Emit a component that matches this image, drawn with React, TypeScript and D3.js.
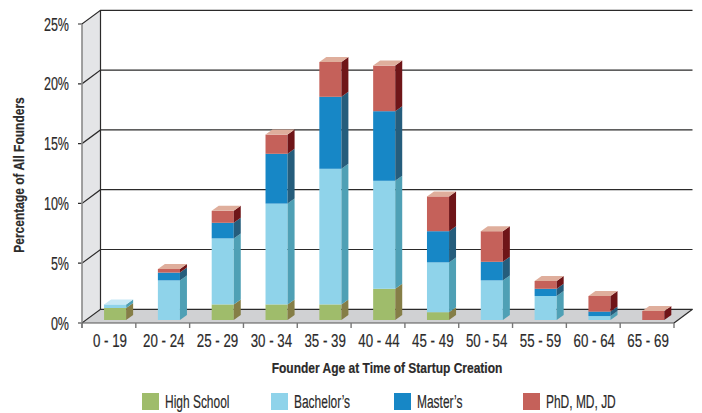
import * as d3 from 'd3'

const ageGroups = ['0 - 19', '20 - 24', '25 - 29', '30 - 34', '35 - 39', '40 - 44', '45 - 49', '50 - 54', '55 - 59', '60 - 64', '65 - 69']
const highSchool = [1.0, 0, 1.3, 1.3, 1.3, 2.6, 0.65, 0, 0, 0, 0]
const bachelors = [0.3, 3.3, 5.5, 8.4, 11.3, 9.0, 4.15, 3.3, 2.0, 0.33, 0]
const masters = [0, 0.65, 1.3, 4.15, 6.0, 5.8, 2.6, 1.55, 0.6, 0.37, 0]
const phd = [0, 0.3, 1.0, 1.6, 2.9, 3.8, 2.9, 2.55, 0.65, 1.3, 0.75]
const yTicks = [0, 5, 10, 15, 20, 25]

const seriesNames = ['High School', 'Bachelor’s', 'Master’s', 'PhD, MD, JD']
const seriesValues = [highSchool, bachelors, masters, phd]
const frontColors = ['#9fbc6b', '#8fd3ea', '#1787c6', '#c5615a']
const sideColors = ['#857e47', '#4fa0b5', '#255d7c', '#6f1518']
const topColors = ['#c3d2a0', '#c8e8f5', '#7fbce0', '#dfae9c']
const legendX = [142, 271, 394, 523]

const font = '"Liberation Sans", sans-serif'
const ink = '#2b2a2a'

const x0 = 82
const x1 = 674
const depthX = 18.5
const depthY = -13.7
const barDepthX = 7
const barDepthY = -5

// the original type is a condensed face, none is installed so squeeze a regular one
function Narrow({ x, y, squeeze = 0.74, rotate = 0, anchor = 'start', size = 17, bold = false, children }: any) {
    return (
        <text
            transform={`translate(${x},${y}) rotate(${rotate}) scale(${squeeze},1)`}
            textAnchor={anchor}
            fontSize={size}
            fontWeight={bold ? 'bold' : 'normal'}
            fill={ink}
            stroke={ink}
            strokeWidth={0.2}
        >
            {children}
        </text>
    )
}

export default function App() {
    const x = d3.scaleBand<string>().domain(ageGroups).range([x0, x1])
    const y = d3.scaleLinear().domain([0, 25]).range([323, 24])
    // bars sit a little behind the front edge of the floor
    const yBar = d3.scaleLinear().domain([0, 25]).range([320, 20])

    const rows = ageGroups.map((age, i) => {
        const row: Record<string, number | string> = { age }
        seriesNames.forEach((name, s) => (row[name] = seriesValues[s][i]))
        return row
    })
    const stacked = d3.stack<Record<string, number | string>>().keys(seriesNames)(rows as any)

    const poly = d3.line()
    const barW = x.bandwidth() * 0.41
    const barLeft = (age: string) => (x(age) as number) + x.bandwidth() * 0.41

    return (
        <svg
            width={702}
            height={413}
            style={{ position: 'fixed', left: 0, top: 0, background: 'white', fontFamily: font }}
        >
            {/* wall and floor */}
            <path
                d={poly([[x0, y(0)], [x0, y(25)], [x0 + depthX, y(25) + depthY], [x0 + depthX, y(0) + depthY]])!}
                fill="#e4e5e7"
            />
            <path
                d={poly([[x0, y(0)], [x1, y(0)], [x1 + depthX, y(0) + depthY], [x0 + depthX, y(0) + depthY]])!}
                fill="#d0d1d3"
            />

            {yTicks.map((t) => (
                <path
                    key={t}
                    d={poly([
                        [x0 - 4, y(t)],
                        [x0, y(t)],
                        [x0 + depthX, y(t) + depthY],
                        [x1 + depthX, y(t) + depthY],
                    ])!}
                    stroke={ink}
                    strokeWidth={1.2}
                    fill="none"
                />
            ))}
            <line x1={x0 + depthX} x2={x0 + depthX} y1={y(25) + depthY} y2={y(0) + depthY} stroke={ink} strokeWidth={1.2} />
            <line x1={x1} x2={x1 + depthX} y1={y(0)} y2={y(0) + depthY} stroke={ink} strokeWidth={1.2} />
            <line x1={x0} x2={x0} y1={y(25)} y2={y(0) + 5} stroke="#8a8a8a" strokeWidth={1.6} />
            <line x1={x0} x2={x1} y1={y(0)} y2={y(0)} stroke="#555" strokeWidth={1.2} />
            {[...ageGroups.map((a) => x(a) as number), x1].map((tx) => (
                <line key={tx} x1={tx} x2={tx} y1={y(0)} y2={y(0) + 5} stroke="#777" strokeWidth={1.4} />
            ))}

            {/* bars */}
            {ageGroups.map((age, i) => {
                const left = barLeft(age)
                const right = left + barW
                const layers = stacked.filter((l) => l[i][1] > l[i][0])
                const top = layers[layers.length - 1]
                return (
                    <g key={age}>
                        {layers.map((l) => {
                            const s = seriesNames.indexOf(l.key)
                            const yTop = yBar(l[i][1])
                            const yBottom = yBar(l[i][0])
                            return (
                                <g key={l.key}>
                                    <rect x={left} y={yTop} width={barW} height={yBottom - yTop} fill={frontColors[s]} />
                                    <path
                                        d={poly([
                                            [right, yTop],
                                            [right + barDepthX, yTop + barDepthY],
                                            [right + barDepthX, yBottom + barDepthY],
                                            [right, yBottom],
                                        ])!}
                                        fill={sideColors[s]}
                                    />
                                </g>
                            )
                        })}
                        <path
                            d={poly([
                                [left, yBar(top[i][1])],
                                [left + barDepthX, yBar(top[i][1]) + barDepthY],
                                [right + barDepthX, yBar(top[i][1]) + barDepthY],
                                [right, yBar(top[i][1])],
                            ])!}
                            fill={topColors[seriesNames.indexOf(top.key)]}
                        />
                    </g>
                )
            })}

            {/* axis labels */}
            {yTicks.map((t) => (
                <Narrow key={t} x={69} y={y(t) + 6.5} anchor="end" size={19} squeeze={0.66}>
                    {t}%
                </Narrow>
            ))}
            {ageGroups.map((age) => (
                <Narrow key={age} x={(x(age) as number) + x.bandwidth() / 2 + 1} y={346.5} anchor="middle" size={18} squeeze={0.74}>
                    {age}
                </Narrow>
            ))}
            <Narrow x={387} y={373} anchor="middle" size={15} squeeze={0.8} bold>
                Founder Age at Time of Startup Creation
            </Narrow>
            <Narrow x={24} y={175} anchor="middle" size={15} squeeze={0.8} rotate={-90} bold>
                Percentage of All Founders
            </Narrow>

            {/* legend */}
            {seriesNames.map((name, s) => (
                <g key={name}>
                    <rect x={legendX[s]} y={393} width={17} height={17} fill={frontColors[s]} />
                    <Narrow x={legendX[s] + 23} y={408} size={19} squeeze={0.63}>
                        {name}
                    </Narrow>
                </g>
            ))}
        </svg>
    )
}
